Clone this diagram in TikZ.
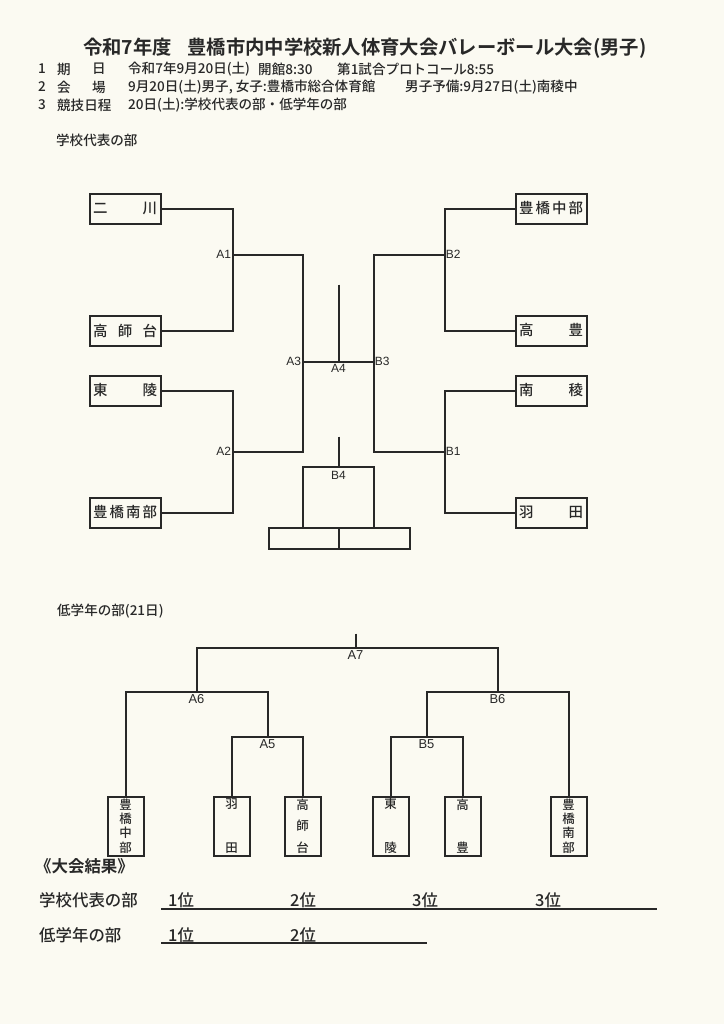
\documentclass[tikz,border=0pt]{standalone}
\usepackage{fontspec}
\setmainfont{Noto Sans CJK JP}[UprightFont=* Medium, BoldFont=* Bold]
\newfontfamily\lat{Liberation Sans}
\definecolor{paper}{RGB}{251,250,242}
\definecolor{ink}{RGB}{40,40,40}
\begin{document}
\begin{tikzpicture}[x=1bp,y=-1bp,color=ink,
  conn/.style={draw=ink, line width=2bp},
  hbx/.style={draw=ink, line width=2bp, minimum width=71bp, minimum height=30bp, inner sep=0pt, font=\fontsize{14.5}{15}\selectfont},
  vbx/.style={draw=ink, line width=2bp, minimum width=36bp, minimum height=59bp, inner sep=0pt, font=\fontsize{12.5}{13}\selectfont},
  fbx/.style={draw=ink, line width=2bp, minimum height=21bp, inner sep=0pt},
  lab/.style={font=\lat\fontsize{12}{13}\selectfont, inner sep=1.2pt},
  labl/.style={font=\lat\fontsize{13}{14}\selectfont, inner sep=0pt, anchor=north},
  txt/.style={anchor=west, inner sep=0pt, font=\fontsize{13.6}{14}\selectfont},
  res/.style={anchor=west, inner sep=0pt, font=\fontsize{16.5}{17}\selectfont},
  resline/.style={draw=ink, line width=2.6bp}
]
\fill[paper] (0,0) rectangle (724,1024);
\useasboundingbox (0,0) rectangle (724,1024);

% ---- header ----
\node[anchor=west, inner sep=0pt, font=\bfseries\fontsize{19.4}{21}\selectfont] (title) at (83,48) {令和7年度\hspace{0.8em}豊橋市内中学校新人体育大会バレーボール大会(男子)};
\node[txt] (n1a) at (38,69) {1};
\node[txt] (n1b) at (57,69) {期};
\node[txt] (n1c) at (92,69) {日};
\node[txt] (n1d) at (128,69) {令和7年9月20日(土)};
\node[txt] (n1e) at (258,69) {開館8:30};
\node[txt] (n1f) at (337,69) {第1試合プロトコール8:55};
\node[txt] (n2a) at (38,87) {2};
\node[txt] (n2b) at (57,87) {会};
\node[txt] (n2c) at (92,87) {場};
\node[txt] (n2d) at (128,87) {9月20日(土)男子, 女子:豊橋市総合体育館};
\node[txt] (n2e) at (405,87) {男子予備:9月27日(土)南稜中};
\node[txt] (n3a) at (38,105) {3};
\node[txt] (n3b) at (57,105) {競技日程};
\node[txt] (n3d) at (128,105) {20日(土):学校代表の部・低学年の部};
\node[txt] (sec1) at (56,140) {学校代表の部};

% ---- upper bracket: team boxes ----
\node[hbx] (L1) at (125,208.5) {\makebox[64bp]{二\hfill 川}};
\node[hbx] (L2) at (125,330.5) {\makebox[64bp]{高\hfill 師\hfill 台}};
\node[hbx] (L3) at (125,390.5) {\makebox[64bp]{東\hfill 陵}};
\node[hbx] (L4) at (125,512.5) {\makebox[64bp]{豊\hfill 橋\hfill 南\hfill 部}};
\node[hbx] (R1) at (551,208.5) {\makebox[64bp]{豊\hfill 橋\hfill 中\hfill 部}};
\node[hbx] (R2) at (551,330.5) {\makebox[64bp]{高\hfill 豊}};
\node[hbx] (R3) at (551,390.5) {\makebox[64bp]{南\hfill 稜}};
\node[hbx] (R4) at (551,512.5) {\makebox[64bp]{羽\hfill 田}};

\coordinate (a1) at (232.5,254.5);
\coordinate (a2) at (232.5,451.5);
\coordinate (a3) at (302.5,361.5);
\coordinate (a4) at (338.5,361.5);
\coordinate (a4t) at (338.5,284.5);
\coordinate (b3) at (373.5,361.5);
\coordinate (b2) at (444.5,254.5);
\coordinate (b1) at (444.5,451.5);
\coordinate (b4t) at (338.5,436.5);
\coordinate (b4) at (338.5,466.5);
\coordinate (b4l) at (302.5,466.5);
\coordinate (b4r) at (373.5,466.5);

\draw[conn] (L1.east) -| (a1) |- (L2.east);
\draw[conn] (L3.east) -| (a2) |- (L4.east);
\draw[conn] (a1) -| (a3) |- (a2);
\draw[conn] (R1.west) -| (b2) |- (R2.west);
\draw[conn] (R3.west) -| (b1) |- (R4.west);
\draw[conn] (b2) -| (b3) |- (b1);
\draw[conn] (a3) -- (b3);
\draw[conn] (a4t) -- (a4);

\node[fbx, minimum width=70bp] (F1) at (303.5,538) {};
\node[fbx, minimum width=71bp] (F2) at (374,538) {};
\draw[conn] (b4t) -- (b4);
\draw[conn] (F1.north -| b4l) -- (b4l) -- (b4r) -- (F2.north -| b4r);

\node[lab, anchor=east] (tA1) at (a1) {A1};
\node[lab, anchor=east] (tA2) at (a2) {A2};
\node[lab, anchor=east] (tA3) at (a3) {A3};
\node[lab, anchor=north] (tA4) at ([yshift=-1.5pt]a4) {A4};
\node[lab, anchor=west] (tB1) at (b1) {B1};
\node[lab, anchor=west] (tB2) at (b2) {B2};
\node[lab, anchor=west] (tB3) at (b3) {B3};
\node[lab] (tB4) at (338.5,475.5) {B4};

% ---- lower bracket ----
\node[txt] (sec2) at (57,611) {低学年の部(21日)};

\node[vbx] (M1) at (125.5,826) {\parbox[c][54bp][s]{14pt}{\centering 豊\par\vfill 橋\par\vfill 中\par\vfill 部}};
\node[vbx] (M2) at (231.5,826) {\parbox[c][54bp][s]{14pt}{\centering 羽\par\vfill 田}};
\node[vbx] (M3) at (302.5,826) {\parbox[c][54bp][s]{14pt}{\centering 高\par\vfill 師\par\vfill 台}};
\node[vbx] (M4) at (390.5,826) {\parbox[c][54bp][s]{14pt}{\centering 東\par\vfill 陵}};
\node[vbx] (M5) at (462.5,826) {\parbox[c][54bp][s]{14pt}{\centering 高\par\vfill 豊}};
\node[vbx] (M6) at (568.5,826) {\parbox[c][54bp][s]{14pt}{\centering 豊\par\vfill 橋\par\vfill 南\par\vfill 部}};

\coordinate (a7t) at (355.5,633.5);
\coordinate (a7) at (355.5,647.5);
\coordinate (a6) at (196.5,691.5);
\coordinate (b6) at (497.5,691.5);
\coordinate (a5) at (267.5,736.5);
\coordinate (b5) at (426.5,736.5);

\draw[conn] (a7t) -- (a7);
\draw[conn] (a6) |- (a7) -| (b6);
\draw[conn] (M1.north) |- (a6) -| (a5);
\draw[conn] (M2.north) |- (a5) -| (M3.north);
\draw[conn] (M4.north) |- (b5) -| (M5.north);
\draw[conn] (b5) |- (b6) -| (M6.north);

\node[labl] (tA7) at ([yshift=-2.5pt]a7) {A7};
\node[labl] (tA6) at ([yshift=-2.5pt]a6) {A6};
\node[labl] (tB6) at ([yshift=-2.5pt]b6) {B6};
\node[labl] (tA5) at ([yshift=-2.5pt]a5) {A5};
\node[labl] (tB5) at ([yshift=-2.5pt]b5) {B5};

% ---- results ----
\node[res, font=\bfseries\fontsize{16.5}{17}\selectfont] (rt) at (35,866) {《大会結果》};
\node[res] (r1) at (39,900) {学校代表の部};
\node[res] (r1a) at (168,900) {1位};
\node[res] (r1b) at (290,900) {2位};
\node[res] (r1c) at (412,900) {3位};
\node[res] (r1d) at (535,900) {3位};
\coordinate (l1s) at (161,909);
\coordinate (l1e) at (657,909);
\draw[resline] (l1s) -- (l1e);
\node[res] (r2) at (39,935) {低学年の部};
\node[res] (r2a) at (168,935) {1位};
\node[res] (r2b) at (290,935) {2位};
\coordinate (l2s) at (161,943);
\coordinate (l2e) at (427,943);
\draw[resline] (l2s) -- (l2e);
\end{tikzpicture}
\end{document}
